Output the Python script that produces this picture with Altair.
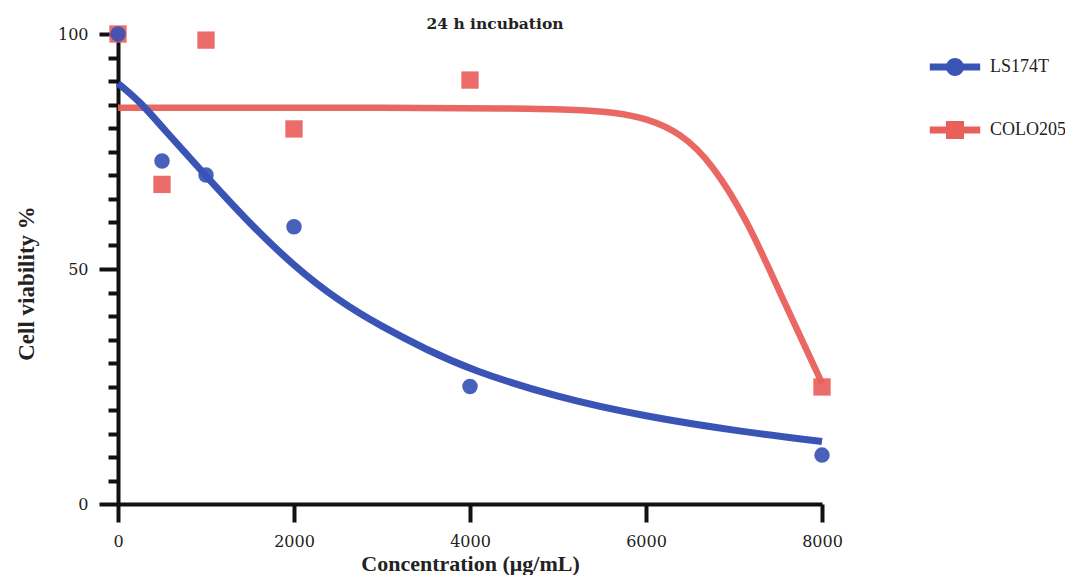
import altair as alt
import pandas as pd

# ---- data ----
series_names = ["LS174T", "COLO205"]
series_colors = ["#3a54b6", "#e9605b"]

conc = [0, 500, 1000, 2000, 4000, 8000]
ls174t_values = [100, 73, 70, 59, 25, 10.4]
colo205_values = [100, 68, 98.7, 79.8, 90.2, 24.9]

ls174t_fit_x = [0, 250, 500, 1000, 1500, 2000, 2500, 3000, 3500, 4000, 5000, 6000, 7000, 8000]
ls174t_fit_y = [89.5, 85.6, 80.2, 69.8, 59.6, 50.6, 43.3, 37.7, 32.9, 28.6, 22.6, 18.6, 15.6, 13.3]

colo205_fit_x = [0, 1500, 3000, 4500, 5250, 5650, 6000, 6400, 6750, 7150, 7500, 8000]
colo205_fit_y = [84.3, 84.3, 84.3, 84.2, 83.9, 83.3, 82.1, 78.9, 72.5, 60.4, 45.8, 25.7]

x_ticks = [0, 2000, 4000, 6000, 8000]
y_ticks = list(range(0, 101, 5))

# ---- tables ----
points = pd.DataFrame({
    "conc": conc + conc,
    "value": ls174t_values + colo205_values,
    "series": [series_names[0]] * len(conc) + [series_names[1]] * len(conc),
})
fits = pd.DataFrame({
    "conc": ls174t_fit_x + colo205_fit_x,
    "value": ls174t_fit_y + colo205_fit_y,
    "series": [series_names[0]] * len(ls174t_fit_x) + [series_names[1]] * len(colo205_fit_x),
})

blue, red = series_colors

x_enc = alt.X(
    "conc:Q",
    title="Concentration (μg/mL)",
    scale=alt.Scale(domain=[0, 8000], nice=False, zero=False),
    axis=alt.Axis(
        values=x_ticks, format="d", labelFlush=False, tickSize=18, labelPadding=11,
        labelFont="DejaVu Serif", labelFontSize=16, labelColor="#222",
        titleFont="Liberation Serif", titleFontSize=22, titleFontWeight="bold",
        titleColor="#222", titleX=352, titleY=66, titleBaseline="alphabetic",
        titleAlign="center",
    ),
)
y_enc = alt.Y(
    "value:Q",
    title="Cell viability %",
    scale=alt.Scale(domain=[0, 100], nice=False),
    axis=alt.Axis(
        values=y_ticks,
        labelExpr="datum.value % 50 === 0 ? datum.label : ''",
        tickSize={"condition": {"test": "datum.value % 50 === 0", "value": 19}, "value": 10},
        labelPadding=11, labelFlush=False,
        labelFont="DejaVu Serif", labelFontSize=16, labelColor="#222",
        titleFont="Liberation Serif", titleFontSize=23, titleFontWeight="bold",
        titleColor="#222", titleAngle=-90, titleX=-85, titleY=249,
        titleBaseline="alphabetic", titleAlign="center",
    ),
)

red_fit = alt.Chart(fits).transform_filter(
    alt.datum.series == series_names[1]
).mark_line(color=red, strokeWidth=6.5, interpolate="basis", opacity=0.95).encode(x=x_enc, y=y_enc)

red_pts = alt.Chart(points).transform_filter(
    alt.datum.series == series_names[1]
).mark_point(shape="square", filled=True, color=red, size=300, opacity=0.92).encode(x=x_enc, y=y_enc)

blue_fit = alt.Chart(fits).transform_filter(
    alt.datum.series == series_names[0]
).mark_line(color=blue, strokeWidth=7, interpolate="basis").encode(x=x_enc, y=y_enc)

blue_pts = alt.Chart(points).transform_filter(
    alt.datum.series == series_names[0]
).mark_point(shape="circle", filled=True, color=blue, size=240, opacity=0.92).encode(x=x_enc, y=y_enc)

# legend symbols: a bar with a marker on it (custom symbol paths)
line_circle = "M-2.8,-0.38H2.8V0.38H-2.8Z M1,0A1,1 0 1,1 -1,0A1,1 0 1,1 1,0Z"
line_square = "M-2.8,-0.38H2.8V0.38H-2.8Z M-1,-1H1V1H-1Z"

legend_layer = alt.Chart(points).transform_filter("false").mark_point(
    filled=True, opacity=1
).encode(
    x=x_enc, y=y_enc,
    color=alt.Color("series:N", scale=alt.Scale(domain=series_names, range=series_colors),
                    legend=alt.Legend(title=None)),
    shape=alt.Shape("series:N", scale=alt.Scale(domain=series_names, range=[line_circle, line_square]),
                    legend=alt.Legend(title=None)),
)

chart = alt.layer(red_fit, red_pts, blue_fit, blue_pts, legend_layer).properties(
    width=704,
    height=470,
    autosize=alt.AutoSizeParams(type="none"),
    padding={"left": 110, "top": 26, "right": 243, "bottom": 71},
    title=alt.TitleParams(
        "24 h incubation", font="DejaVu Serif", fontSize=15.5, fontWeight="bold",
        color="#222", anchor="middle", dx=25, dy=11,
    ),
).configure_view(
    strokeWidth=0
).configure_axis(
    grid=False, domainColor="#111", domainWidth=4, tickColor="#111", tickWidth=4,
).configure_legend(
    orient="none", legendX=828, legendY=24, symbolSize=324, symbolStrokeWidth=0,
    labelFont="Liberation Serif", labelFontSize=18, labelColor="#222",
    labelOffset=26, rowPadding=45, symbolOpacity=1,
)

chart.save("out.html", embed_options={"renderer": "svg", "actions": False})
